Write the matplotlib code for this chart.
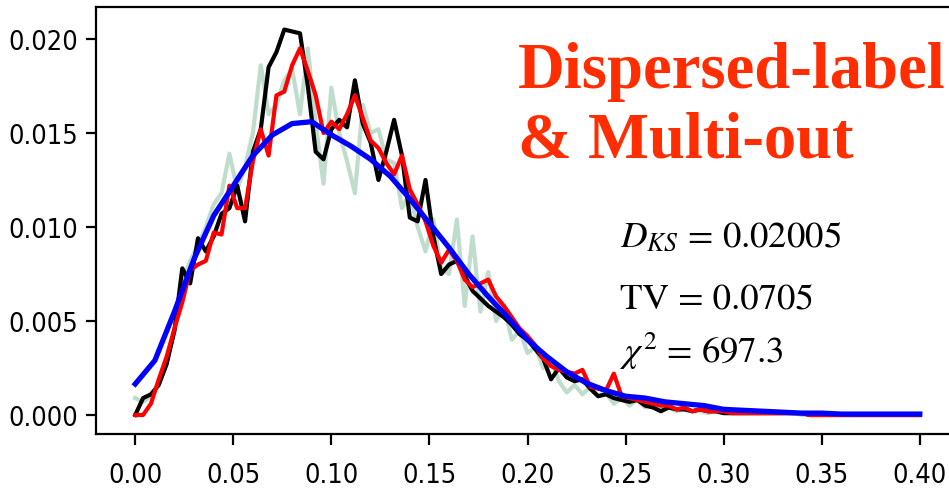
import numpy as np
import matplotlib
matplotlib.use("Agg")
import matplotlib.pyplot as plt
from matplotlib import font_manager as fm

# ---------------- data ----------------
x_fine = np.round(np.arange(0, 0.4001, 0.004), 4)   # 101 points

black_vals = [
    0.0000, 0.0009, 0.0011, 0.0016, 0.0027, 0.0045, 0.0078, 0.0070, 0.0094, 0.0087,
    0.0095, 0.0107, 0.0110, 0.0122, 0.0103, 0.0140, 0.0152, 0.0185, 0.0193, 0.0205,
    0.0204, 0.0203, 0.0175, 0.0140, 0.0136, 0.0152, 0.0157, 0.0153, 0.0178, 0.0155,
    0.0145, 0.0125, 0.0140, 0.0157, 0.0138, 0.0105, 0.0103, 0.0125, 0.0095, 0.0075,
    0.0080, 0.0082, 0.0074, 0.0066, 0.0062, 0.0058, 0.0055, 0.0052, 0.0048, 0.0043,
    0.0040, 0.0035, 0.0030, 0.0019, 0.0025, 0.0020, 0.0018, 0.0019, 0.0014, 0.0010,
    0.0011, 0.0009, 0.0008, 0.0007, 0.0008, 0.0005, 0.0004, 0.0002, 0.0004, 0.0003,
    0.0003, 0.0002, 0.0003, 0.0002, 0.0002, 0.0001, 0.0001, 0.0001, 0.0001, 0.0001,
    0.0001, 0.0001, 0.0001, 0.0001, 0.0001, 0.0001, 0.0000, 0.0000, 0.0000, 0.0000,
    0.0000, 0.0000, 0.0000, 0.0000, 0.0000, 0.0000, 0.0000, 0.0000, 0.0000, 0.0000,
    0.0000,
]

red_vals = [
    0.0000, 0.0000, 0.0006, 0.0019, 0.0031, 0.0046, 0.0060, 0.0077, 0.0080, 0.0082,
    0.0097, 0.0096, 0.0122, 0.0110, 0.0110, 0.0135, 0.0152, 0.0138, 0.0170, 0.0172,
    0.0186, 0.0195, 0.0183, 0.0170, 0.0150, 0.0156, 0.0152, 0.0160, 0.0170, 0.0158,
    0.0146, 0.0142, 0.0134, 0.0128, 0.0138, 0.0120, 0.0112, 0.0103, 0.0090, 0.0081,
    0.0088, 0.0082, 0.0072, 0.0068, 0.0070, 0.0072, 0.0063, 0.0058, 0.0052, 0.0046,
    0.0042, 0.0037, 0.0030, 0.0026, 0.0024, 0.0023, 0.0022, 0.0024, 0.0015, 0.0014,
    0.0013, 0.0022, 0.0010, 0.0009, 0.0008, 0.0007, 0.0006, 0.0005, 0.0005, 0.0003,
    0.0004, 0.0002, 0.0003, 0.0002, 0.0002, 0.0002, 0.0001, 0.0001, 0.0001, 0.0001,
    0.0001, 0.0001, 0.0001, 0.0001, 0.0001, 0.0001, 0.0000, 0.0000, 0.0000, 0.0000,
    0.0000, 0.0000, 0.0000, 0.0000, 0.0000, 0.0000, 0.0000, 0.0000, 0.0000, 0.0000,
    0.0000,
]

green_vals = [
    0.0009, 0.0007, 0.0010, 0.0017, 0.0030, 0.0044, 0.0070, 0.0082, 0.0090, 0.0100,
    0.0112, 0.0118, 0.0139, 0.0120, 0.0132, 0.0150, 0.0186, 0.0160, 0.0165, 0.0178,
    0.0184, 0.0160, 0.0195, 0.0155, 0.0123, 0.0174, 0.0150, 0.0135, 0.0118, 0.0165,
    0.0150, 0.0152, 0.0136, 0.0134, 0.0110, 0.0118, 0.0100, 0.0087, 0.0104, 0.0078,
    0.0075, 0.0104, 0.0058, 0.0095, 0.0055, 0.0076, 0.0050, 0.0058, 0.0040, 0.0045,
    0.0033, 0.0036, 0.0025, 0.0030, 0.0018, 0.0012, 0.0016, 0.0011, 0.0015, 0.0010,
    0.0012, 0.0006, 0.0009, 0.0005, 0.0008, 0.0004, 0.0006, 0.0003, 0.0004, 0.0002,
    0.0003, 0.0002, 0.0002, 0.0001, 0.0002, 0.0001, 0.0001, 0.0001, 0.0001, 0.0001,
    0.0001, 0.0001, 0.0001, 0.0001, 0.0001, 0.0000, 0.0000, 0.0000, 0.0000, 0.0000,
    0.0000, 0.0000, 0.0000, 0.0000, 0.0000, 0.0000, 0.0000, 0.0000, 0.0000, 0.0000,
    0.0000,
]

x_fit = np.round(np.arange(0, 0.4001, 0.01), 3)      # 41 points
blue_vals = [
    0.00165, 0.0029, 0.0055, 0.0083, 0.0106, 0.0122, 0.0138, 0.0149, 0.0155, 0.0156,
    0.0149, 0.0143, 0.0136, 0.0127, 0.0115, 0.0102, 0.0089, 0.0075, 0.0063, 0.0052,
    0.0040, 0.0031, 0.0023, 0.0017, 0.0013, 0.0010, 0.0009, 0.0007, 0.0006, 0.0005,
    0.0003, 0.00025, 0.0002, 0.00015, 0.0001, 0.0001, 0.00005, 0.00005, 0.00005, 0.00005,
    0.00005,
]

x_ticks = [0.00, 0.05, 0.10, 0.15, 0.20, 0.25, 0.30, 0.35, 0.40]
y_ticks = [0.000, 0.005, 0.010, 0.015, 0.020]

title_lines = ["Dispersed-label", "& Multi-out"]
stat_lines = [r"$D_{KS}$ = 0.02005", r"TV = 0.0705", r"$\chi^2$ = 697.3"]

# ---------------- figure ----------------
plt.rcParams["mathtext.fontset"] = "stix"
W, H = 949, 489
fig = plt.figure(figsize=(W / 100, H / 100), dpi=100)
ax = fig.add_axes([96 / W, 1 - 435 / H, (959 - 96) / W, (435 - 8) / H])

ax.plot(x_fine, green_vals, color="#2e8b57", alpha=0.3, lw=3.0, zorder=1)
ax.plot(x_fine, black_vals, color="black", lw=3.0, zorder=2)
ax.plot(x_fine, red_vals, color="red", lw=3.0, zorder=3)
ax.plot(x_fit, blue_vals, color="#0000ff", lw=3.8, zorder=4)

ax.set_xlim(-0.02, 0.42)
ax.set_ylim(-0.00101, 0.0217)
ax.set_xticks(x_ticks)
ax.set_yticks(y_ticks)
for s in ax.spines.values():
    s.set_linewidth(1.6)
ax.tick_params(axis="x", length=8.0, width=1.6, pad=12)
ax.tick_params(axis="y", length=7.0, width=1.6, pad=6)

tick_fp = fm.FontProperties(family="DejaVu Sans", stretch="condensed", size=19.5)
for lab in ax.get_xticklabels() + ax.get_yticklabels():
    lab.set_fontproperties(tick_fp)

red_txt = "#ff2d00"
fig.text(518 / W, 1 - 88 / H, title_lines[0], color=red_txt, fontsize=46.5,
         fontweight="bold", family="Liberation Serif", va="baseline", ha="left")
fig.text(518 / W, 1 - 158 / H, title_lines[1], color=red_txt, fontsize=46.5,
         fontweight="bold", family="Liberation Serif", va="baseline", ha="left")

for txt, yb in zip(stat_lines, [247, 310, 363]):
    fig.text(620 / W, 1 - yb / H, txt, fontsize=26.5, color="black",
             family="STIXGeneral", va="baseline", ha="left")

fig.savefig("out.png", dpi=100)
